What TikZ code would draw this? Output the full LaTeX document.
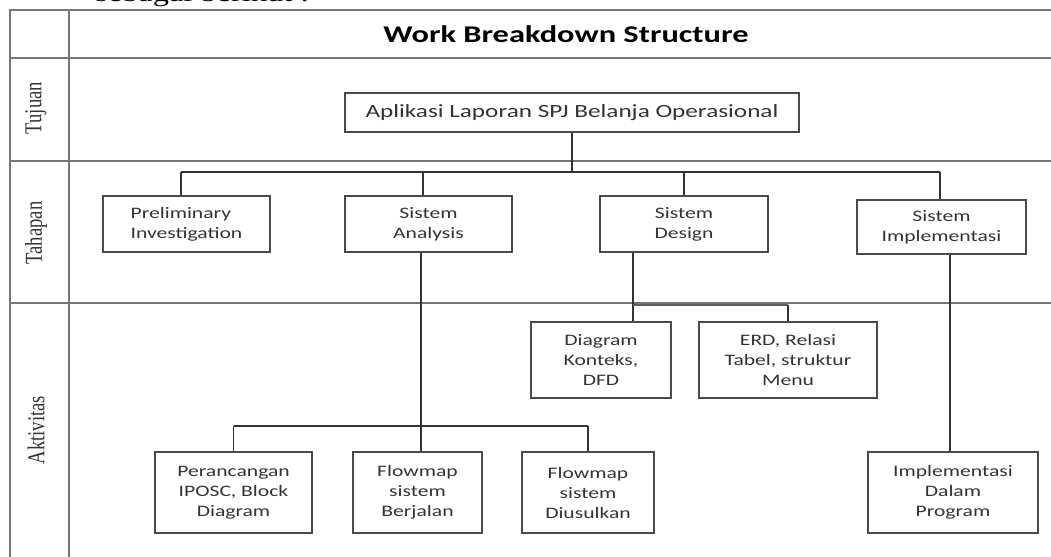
\documentclass[tikz,border=0pt]{standalone}
\usepackage{fontspec}
\setmainfont{Liberation Serif}
\newfontfamily\boxfont[FakeStretch=1.35]{Carlito}
\newfontfamily\introfont[FakeStretch=1.35]{Liberation Serif}
\usetikzlibrary{fit}
\definecolor{tbl}{HTML}{767676}
\definecolor{ln}{HTML}{333333}
\definecolor{bd}{HTML}{4A4A4A}
\definecolor{tx}{HTML}{333333}
\tikzset{
  grid/.style={draw=tbl, line width=1.9pt},
  box/.style={draw=bd, line width=1.4pt, inner sep=0pt, align=center, text=tx,
    font=\boxfont\fontsize{12}{15}\selectfont},
  mainbox/.style={box, font=\boxfont\fontsize{14}{16}\selectfont},
  conn/.style={draw=ln, line width=1.3pt},
  side/.style={rotate=90, text=tx, font=\fontsize{14}{15}\selectfont},
}
\begin{document}
\begin{tikzpicture}[x=0.75pt, y=-0.75pt]
\useasboundingbox (0,0) rectangle (1051,557);
% partial text line cut by the top edge
\node[anchor=base west, inner sep=0pt, font=\introfont\fontsize{18}{20}\selectfont] (intro) at (95,1.5) {sebagai berikut :};
% table
\draw[grid] (1060,10) -- (10,10) -- (10,565);
\draw[grid] (69,10) -- (69,565);
\draw[grid] (10,58) -- (1060,58);
\draw[grid] (10,161) -- (1060,161);
\draw[grid] (10,303) -- (1060,303);
% headings
\node[font=\boxfont\bfseries\fontsize{18}{20}\selectfont] (title) at (566,34) {Work Breakdown Structure};
\node[side] (tujuan) at (36,108) {\scalebox{1}[1.3]{Tujuan}};
\node[side] (tahapan) at (36,233) {\scalebox{1}[1.3]{Tahapan}};
\node[side] (aktivitas) at (36,430) {\scalebox{1}[1.3]{Aktivitas}};
% boxes
\node[mainbox, fit={(345,93) (799,132)}] (main) {};
\node[font=\boxfont\fontsize{14}{16}\selectfont, text=tx] at (main.center) {Aplikasi Laporan SPJ Belanja Operasional};
\node[box, fit={(103,196) (270,252)}] (prelim) {};
\node[box, draw=none, align=left] at (prelim.center) {Preliminary\\Investigation};
\node[box, fit={(345,196) (512,252)}] (analysis) {};
\node[box, draw=none] at (analysis.center) {Sistem\\Analysis};
\node[box, fit={(600,196) (768,252)}] (design) {};
\node[box, draw=none] at (design.center) {Sistem\\Design};
\node[box, fit={(857,200) (1026,254)}] (impl) {};
\node[box, draw=none] at (impl.center) {Sistem\\Implementasi};
\node[box, fit={(531,322) (671,398)}] (diagram) {};
\node[box, draw=none] at (diagram.center) {Diagram\\Konteks,\\DFD};
\node[box, fit={(699,322) (877,398)}] (erd) {};
\node[box, draw=none] at (erd.center) {ERD, Relasi\\Tabel, struktur\\Menu};
\node[box, fit={(155,452) (312,533)}] (peranc) {};
\node[box, draw=none] at (peranc.center) {Perancangan\\IPOSC, Block\\Diagram};
\node[box, fit={(353,452) (482,533)}] (berjalan) {};
\node[box, draw=none] at (berjalan.center) {Flowmap\\sistem\\Berjalan};
\node[box, fit={(522,452) (654,533)}] (diusulkan) {};
\node[box, draw=none] at (diusulkan.center) {Flowmap\\sistem\\Diusulkan};
\node[box, fit={(868,452) (1038,533)}] (program) {};
\node[box, draw=none] at (program.center) {Implementasi\\Dalam\\Program};
% connectors
\coordinate (b1) at (181,172);
\coordinate (b2) at (423,172);
\coordinate (b4) at (940,172);
\draw[conn] (main.south) -- (main.south |- b1);
\draw[conn] (b1) -- (b4);
\draw[conn] (b1) -- (b1 |- prelim.north);
\draw[conn] (b2) -- (b2 |- analysis.north);
\draw[conn] (design.north |- b1) -- (design.north);
\draw[conn] (b4) -- (b4 |- impl.north);
% analysis children
\coordinate (a1) at (421,426);
\coordinate (aL) at (233.5,426);
\coordinate (aR) at (588,426);
\draw[conn] (analysis.south -| a1) -- (a1 |- berjalan.north);
\draw[conn] (aL) -- (aR);
\draw[conn] (aL) -- (peranc.north);
\draw[conn] (aR) -- (diusulkan.north);
% design children
\coordinate (d1) at (633,305);
\coordinate (d2) at (788,305);
\draw[conn] (design.south -| d1) -- (d1 |- diagram.north);
\draw[conn, line width=2pt, draw=tbl!80!black] (d1) -- (d2);
\draw[conn] (d2) -- (erd.north);
% implementation child
\coordinate (p1) at (950,300);
\draw[conn] (impl.south -| p1) -- (p1 |- program.north);
\end{tikzpicture}
\end{document}
